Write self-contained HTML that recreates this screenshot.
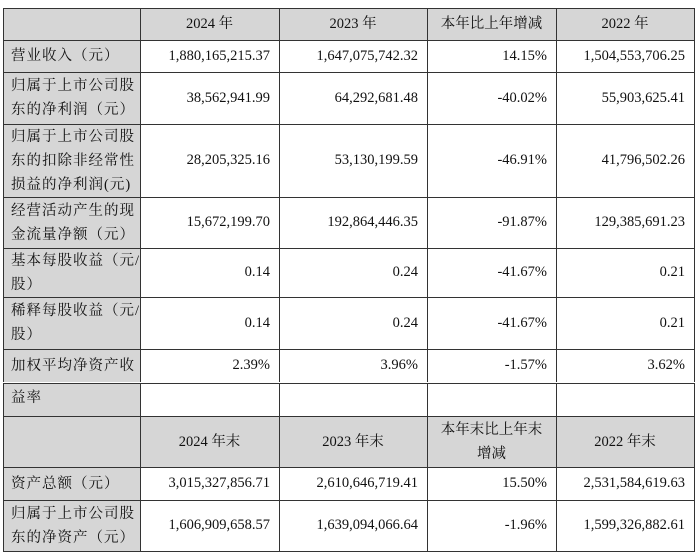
<!DOCTYPE html>
<html><head><meta charset="utf-8"><style>
body{margin:0;width:700px;height:558px;background:#fff;position:relative;overflow:hidden;font-family:"Liberation Serif","Noto Serif CJK SC",serif;color:#111}
.c{position:absolute;box-sizing:border-box;display:flex;align-items:center;font-size:14px}
.g{background:#d6d6d6}
.l{padding-left:8px;letter-spacing:1px;line-height:24px;font-size:14.5px;white-space:nowrap}
.r{justify-content:flex-end;padding-right:9px;font-size:14.5px}
.m{justify-content:center;text-align:center;font-size:14.5px;line-height:24px}
.h{position:absolute;height:1px;background:#333}
.v{position:absolute;width:1px;background:#333}
</style></head><body>
<!-- top table -->
<div class="c g" style="left:3px;top:8px;width:691px;height:32px"></div>
<div class="c g" style="left:3px;top:40px;width:137px;height:342px"></div>
<div class="c m" style="left:140px;top:8px;width:139px;height:32px">2024 年</div>
<div class="c m" style="left:279px;top:8px;width:148px;height:32px">2023 年</div>
<div class="c m" style="left:427px;top:8px;width:129px;height:32px">本年比上年增减</div>
<div class="c m" style="left:556px;top:8px;width:138px;height:32px">2022 年</div>

<div class="c l" style="left:3px;top:40px;width:137px;height:32px">营业收入（元）</div>
<div class="c r" style="left:140px;top:40px;width:139px;height:32px">1,880,165,215.37</div>
<div class="c r" style="left:279px;top:40px;width:148px;height:32px">1,647,075,742.32</div>
<div class="c r" style="left:427px;top:40px;width:129px;height:32px">14.15%</div>
<div class="c r" style="left:556px;top:40px;width:138px;height:32px">1,504,553,706.25</div>

<div class="c l" style="left:3px;top:72px;width:137px;height:52px">归属于上市公司股<br>东的净利润（元）</div>
<div class="c r" style="left:140px;top:72px;width:139px;height:52px">38,562,941.99</div>
<div class="c r" style="left:279px;top:72px;width:148px;height:52px">64,292,681.48</div>
<div class="c r" style="left:427px;top:72px;width:129px;height:52px">-40.02%</div>
<div class="c r" style="left:556px;top:72px;width:138px;height:52px">55,903,625.41</div>

<div class="c l" style="left:3px;top:124px;width:137px;height:73px">归属于上市公司股<br>东的扣除非经常性<br>损益的净利润(元)</div>
<div class="c r" style="left:140px;top:124px;width:139px;height:73px">28,205,325.16</div>
<div class="c r" style="left:279px;top:124px;width:148px;height:73px">53,130,199.59</div>
<div class="c r" style="left:427px;top:124px;width:129px;height:73px">-46.91%</div>
<div class="c r" style="left:556px;top:124px;width:138px;height:73px">41,796,502.26</div>

<div class="c l" style="left:3px;top:197px;width:137px;height:51px">经营活动产生的现<br>金流量净额（元）</div>
<div class="c r" style="left:140px;top:197px;width:139px;height:51px">15,672,199.70</div>
<div class="c r" style="left:279px;top:197px;width:148px;height:51px">192,864,446.35</div>
<div class="c r" style="left:427px;top:197px;width:129px;height:51px">-91.87%</div>
<div class="c r" style="left:556px;top:197px;width:138px;height:51px">129,385,691.23</div>

<div class="c l" style="left:3px;top:248px;width:137px;height:49px">基本每股收益（元/<br>股）</div>
<div class="c r" style="left:140px;top:248px;width:139px;height:49px">0.14</div>
<div class="c r" style="left:279px;top:248px;width:148px;height:49px">0.24</div>
<div class="c r" style="left:427px;top:248px;width:129px;height:49px">-41.67%</div>
<div class="c r" style="left:556px;top:248px;width:138px;height:49px">0.21</div>

<div class="c l" style="left:3px;top:297px;width:137px;height:52px">稀释每股收益（元/<br>股）</div>
<div class="c r" style="left:140px;top:297px;width:139px;height:52px">0.14</div>
<div class="c r" style="left:279px;top:297px;width:148px;height:52px">0.24</div>
<div class="c r" style="left:427px;top:297px;width:129px;height:52px">-41.67%</div>
<div class="c r" style="left:556px;top:297px;width:138px;height:52px">0.21</div>

<div class="c l" style="left:3px;top:349px;width:137px;height:33px">加权平均净资产收</div>
<div class="c r" style="left:140px;top:349px;width:139px;height:33px">2.39%</div>
<div class="c r" style="left:279px;top:349px;width:148px;height:33px">3.96%</div>
<div class="c r" style="left:427px;top:349px;width:129px;height:33px">-1.57%</div>
<div class="c r" style="left:556px;top:349px;width:138px;height:33px">3.62%</div>

<!-- lines top table -->
<div class="h" style="left:3px;top:8px;width:692px"></div>
<div class="h" style="left:3px;top:40px;width:692px"></div>
<div class="h" style="left:3px;top:72px;width:692px"></div>
<div class="h" style="left:3px;top:124px;width:692px"></div>
<div class="h" style="left:3px;top:197px;width:692px"></div>
<div class="h" style="left:3px;top:248px;width:692px"></div>
<div class="h" style="left:3px;top:297px;width:692px"></div>
<div class="h" style="left:3px;top:349px;width:692px"></div>
<div class="v" style="left:3px;top:8px;height:374px"></div>
<div class="v" style="left:140px;top:8px;height:374px"></div>
<div class="v" style="left:279px;top:8px;height:374px"></div>
<div class="v" style="left:427px;top:8px;height:374px"></div>
<div class="v" style="left:556px;top:8px;height:374px"></div>
<div class="v" style="left:694px;top:8px;height:374px"></div>

<!-- lower table -->
<div class="c g l" style="left:3px;top:383px;width:137px;height:33px;align-items:flex-start;padding-top:3px">益率</div>
<div class="c g" style="left:3px;top:416px;width:691px;height:51px"></div>
<div class="c g" style="left:3px;top:467px;width:137px;height:84px"></div>
<div class="c m" style="left:140px;top:416px;width:139px;height:51px">2024 年末</div>
<div class="c m" style="left:279px;top:416px;width:148px;height:51px">2023 年末</div>
<div class="c m" style="left:427px;top:416px;width:129px;height:51px">本年末比上年末<br>增减</div>
<div class="c m" style="left:556px;top:416px;width:138px;height:51px">2022 年末</div>

<div class="c l" style="left:3px;top:467px;width:137px;height:33px">资产总额（元）</div>
<div class="c r" style="left:140px;top:467px;width:139px;height:33px">3,015,327,856.71</div>
<div class="c r" style="left:279px;top:467px;width:148px;height:33px">2,610,646,719.41</div>
<div class="c r" style="left:427px;top:467px;width:129px;height:33px">15.50%</div>
<div class="c r" style="left:556px;top:467px;width:138px;height:33px">2,531,584,619.63</div>

<div class="c l" style="left:3px;top:500px;width:137px;height:51px">归属于上市公司股<br>东的净资产（元）</div>
<div class="c r" style="left:140px;top:500px;width:139px;height:51px">1,606,909,658.57</div>
<div class="c r" style="left:279px;top:500px;width:148px;height:51px">1,639,094,066.64</div>
<div class="c r" style="left:427px;top:500px;width:129px;height:51px">-1.96%</div>
<div class="c r" style="left:556px;top:500px;width:138px;height:51px">1,599,326,882.61</div>

<div class="h" style="left:3px;top:383px;width:692px"></div>
<div class="h" style="left:3px;top:416px;width:692px"></div>
<div class="h" style="left:3px;top:467px;width:692px"></div>
<div class="h" style="left:3px;top:500px;width:692px"></div>
<div class="h" style="left:3px;top:551px;width:692px"></div>
<div class="v" style="left:3px;top:383px;height:169px"></div>
<div class="v" style="left:140px;top:383px;height:169px"></div>
<div class="v" style="left:279px;top:383px;height:169px"></div>
<div class="v" style="left:427px;top:383px;height:169px"></div>
<div class="v" style="left:556px;top:383px;height:169px"></div>
<div class="v" style="left:694px;top:383px;height:169px"></div>
</body></html>
